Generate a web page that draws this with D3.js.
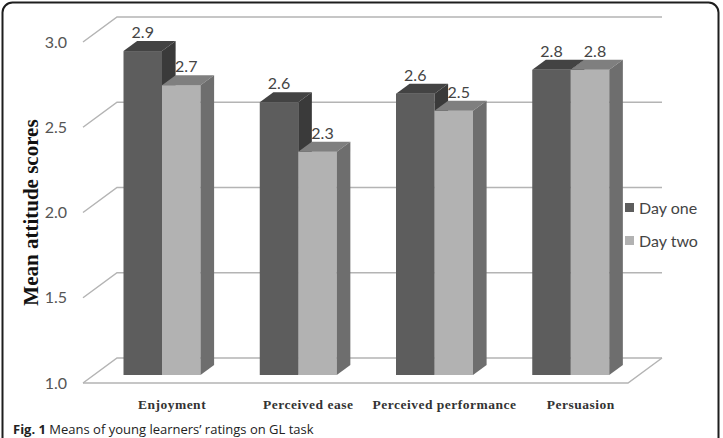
<!DOCTYPE html>
<html>
<head>
<meta charset="utf-8">
<script src="https://cdn.jsdelivr.net/npm/d3@7/dist/d3.min.js"></script>
<style>
  html,body { margin:0; padding:0; background:#fff; }
  svg { display:block; }
</style>
</head>
<body>
<div class="chart"></div>
<script>
const categories = ['Enjoyment','Perceived ease','Perceived performance','Persuasion'];
const seriesNames = ['Day one','Day two'];
const dayOne = [2.9, 2.6, 2.65, 2.79];
const dayTwo = [2.7, 2.31, 2.55, 2.79];
const dayOneLabels = ['2.9','2.6','2.6','2.8'];
const dayTwoLabels = ['2.7','2.3','2.5','2.8'];
const yTicks = [1.0, 1.5, 2.0, 2.5, 3.0];

class Bar3DChart
{
    constructor({wrapperClass,width,height})
    {
        this.svg = d3.select(`.${wrapperClass}`).append('svg')
            .attr('width',width)
            .attr('height',height);

        // front plane of the plot box and the depth vector of the box
        this.plot = { left:83, right:628, top:42, bottom:383 };
        this.depth = { dx:34, dy:-25 };
        // bars sit between these fractions of the depth
        this.barNear = 0.32;
        this.barFar = 0.72;

        this.colors = {
            front:['#5d5d5d','#b2b2b2'],
            top:['#434343','#7f7f7f'],
            side:['#3a3a3a','#6e6e6e']
        };

        this.setup();
        this.draw();
    }

    setup()
    {
        this.yScale = d3.scaleLinear()
            .domain([1,3])
            .range([this.plot.bottom,this.plot.top]);

        this.xScale = d3.scaleBand()
            .domain(categories)
            .range([this.plot.left,this.plot.right]);

        const bw = this.xScale.bandwidth();
        const groupW = 77;
        this.sScale = d3.scaleBand()
            .domain(seriesNames)
            .range([bw/2 - groupW/2, bw/2 + groupW/2]);
    }

    draw()
    {
        const svg = this.svg;
        const {left,right,top,bottom} = this.plot;
        const {dx,dy} = this.depth;
        const y = this.yScale;

        // outer frame
        svg.append('rect')
            .attr('x',2.5).attr('y',2.5)
            .attr('width',716).attr('height',470)
            .attr('rx',10)
            .attr('fill','none')
            .attr('stroke','#1e1e1e')
            .attr('stroke-width',2);

        const grid = svg.append('g').attr('class','grid')
            .attr('stroke','#b4b4b4')
            .attr('stroke-width',1.5)
            .attr('fill','none');

        // back wall lines + left wall diagonals
        grid.selectAll('.back').data(yTicks).enter().append('path')
            .attr('d', d => `M${left},${y(d)}L${left+dx},${y(d)+dy}L${right+dx},${y(d)+dy}`);

        // floor
        grid.append('path')
            .attr('d',`M${left},${bottom}L${right},${bottom}L${right+dx},${bottom+dy}`);

        // y tick labels
        svg.append('g').selectAll('text').data(yTicks).enter().append('text')
            .attr('x',left-16)
            .attr('y',d => y(d))
            .attr('dy','0.35em')
            .attr('text-anchor','end')
            .attr('font-family','Lato, "Open Sans", sans-serif')
            .attr('font-size',16)
            .attr('fill','#555')
            .text(d3.format('.1f'));

        // bars
        const rows = categories.map((c,i) => ({ cat:c, vals:[dayOne[i],dayTwo[i]], labels:[dayOneLabels[i],dayTwoLabels[i]] }));
        const bars = svg.append('g').attr('class','bars');
        const nx = dx*this.barNear, ny = dy*this.barNear;
        const fx = dx*(this.barFar-this.barNear), fy = dy*(this.barFar-this.barNear);
        const sw = this.sScale.bandwidth();

        rows.forEach(r => {
            r.vals.forEach((v,si) => {
                const x0 = this.xScale(r.cat) + this.sScale(seriesNames[si]) + nx;
                const x1 = x0 + sw;
                const yb = y(1) + ny;
                const yt = y(v) + ny;
                const g = bars.append('g');
                g.append('rect')
                    .attr('x',x0).attr('y',yt)
                    .attr('width',sw).attr('height',yb-yt)
                    .attr('fill',this.colors.front[si]);
                g.append('path')
                    .attr('d',`M${x0},${yt}L${x0+fx},${yt+fy}L${x1+fx},${yt+fy}L${x1},${yt}Z`)
                    .attr('fill',this.colors.top[si]);
                g.append('path')
                    .attr('d',`M${x1},${yt}L${x1+fx},${yt+fy}L${x1+fx},${yb+fy}L${x1},${yb}Z`)
                    .attr('fill',this.colors.side[si]);
                g.append('text')
                    .attr('x',(x0+x1)/2 + (si===1 ? 5 : 0))
                    .attr('y',yt+fy-3)
                    .attr('text-anchor','middle')
                    .attr('font-family','Lato, "Open Sans", sans-serif')
                    .attr('font-size',16)
                    .attr('fill','#444')
                    .text(r.labels[si]);
            });
        });

        // category labels
        svg.append('g').selectAll('text').data(categories).enter().append('text')
            .attr('x',d => this.xScale(d) + this.xScale.bandwidth()/2 + nx + 10)
            .attr('y',409)
            .attr('text-anchor','middle')
            .attr('font-family','"Liberation Serif", "Times New Roman", serif')
            .attr('font-weight','bold')
            .attr('font-size',13.5)
            .attr('letter-spacing',0.5)
            .attr('fill','#333')
            .text(d => d);

        // y title
        svg.append('text')
            .attr('transform',`translate(38,${(top+bottom)/2}) rotate(-90)`)
            .attr('text-anchor','middle')
            .attr('font-family','"Liberation Serif", "Times New Roman", serif')
            .attr('font-weight','bold')
            .attr('font-size',21)
            .attr('fill','#111')
            .text('Mean attitude scores');

        // legend
        const legend = svg.append('g').attr('class','legend');
        seriesNames.forEach((s,i) => {
            const ly = 208 + i*33;
            legend.append('rect')
                .attr('x',625).attr('y',ly-5)
                .attr('width',9).attr('height',9)
                .attr('fill',this.colors.front[i]);
            legend.append('text')
                .attr('x',639).attr('y',ly)
                .attr('dy','0.35em')
                .attr('font-family','Lato, "Open Sans", sans-serif')
                .attr('font-size',16)
                .attr('fill','#444')
                .text(s);
        });

        // caption
        const cap = svg.append('text')
            .attr('x',13).attr('y',434)
            .attr('font-family','"Open Sans", sans-serif')
            .attr('font-size',13)
            .attr('fill','#222');
        cap.append('tspan').attr('font-weight','bold').text('Fig. 1');
        cap.append('tspan').text(' Means of young learners\u2019 ratings on GL task');
    }
}

new Bar3DChart({ wrapperClass:'chart', width:723, height:438 });
</script>
</body>
</html>
